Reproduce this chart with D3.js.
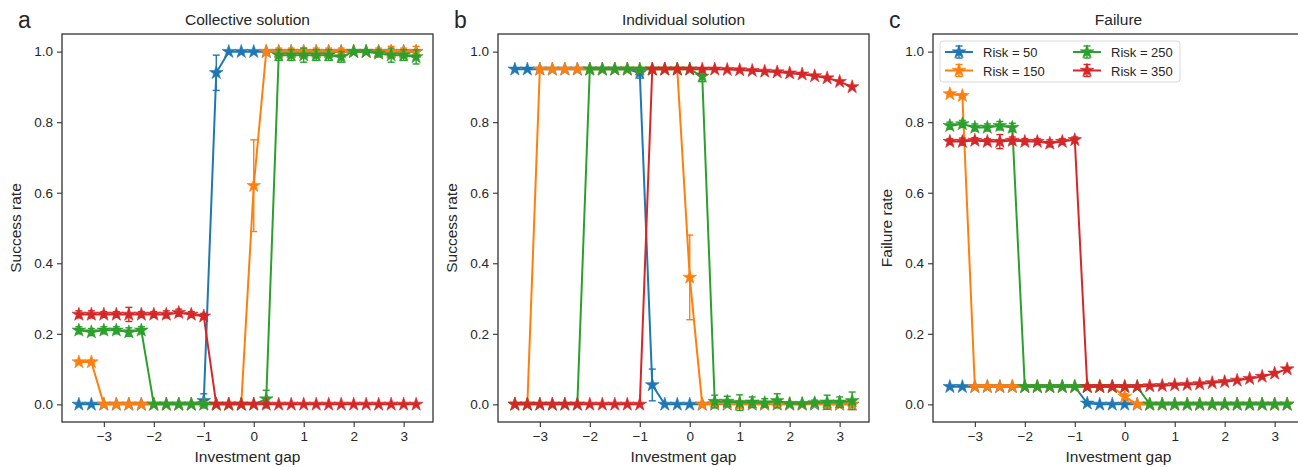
<!DOCTYPE html>
<html lang="en">
  <head>
    <meta charset="UTF-8" />
    <title>Success and failure rates</title>
    <style>
      body { margin: 0; background: #fff; }
      text { font-family: "Liberation Sans", Arial, sans-serif; fill: #262626; }
    </style>
  </head>
  <body>
    <script src="https://cdn.jsdelivr.net/npm/d3@7"></script>
    <script>
    // data
    var investmentGap = [-3.5,-3.25,-3,-2.75,-2.5,-2.25,-2,-1.75,-1.5,-1.25,-1,-0.75,-0.5,-0.25,0,0.25,0.5,0.75,1,1.25,1.5,1.75,2,2.25,2.5,2.75,3,3.25];
    var riskLabels = ["Risk = 50", "Risk = 150", "Risk = 250", "Risk = 350"];
    var xTicks = [-3,-2,-1,0,1,2,3];
    var yTicks = [0,0.2,0.4,0.6,0.8,1.0];

    // a: collective solution
    var collRisk50     = [0,0,0,0,0,0,0,0,0,0,0.01,0.94,1,1,1,1,1,1,1,1,1,1,1,1,1,1,1,1];
    var collRisk50Err  = [0,0,0,0,0,0,0,0,0,0,0.02,0.05,0,0,0,0,0,0,0,0,0,0,0,0,0,0,0,0];
    var collRisk150    = [0.12,0.12,0,0,0,0,0,0,0,0,0,0,0,0,0.62,1,1,1,1,1,1,1,1,1,1,1,1,1];
    var collRisk150Err = [0.005,0.005,0,0,0,0,0,0,0,0,0,0,0,0,0.13,0.005,0.01,0.01,0.01,0.01,0.01,0.01,0.005,0.005,0.01,0.015,0.01,0.015];
    var collRisk250    = [0.21,0.205,0.21,0.21,0.205,0.21,0,0,0,0,0,0,0,0,0,0.015,0.99,0.99,0.99,0.99,0.99,0.985,1.0,1.0,0.995,0.99,0.99,0.985];
    var collRisk250Err = [0.01,0.01,0.01,0.01,0.012,0.01,0,0,0,0,0,0,0,0,0,0.025,0.015,0.015,0.02,0.015,0.015,0.015,0.005,0.005,0.01,0.02,0.015,0.02];
    var collRisk350    = [0.255,0.255,0.255,0.255,0.255,0.255,0.255,0.255,0.26,0.255,0.25,0,0,0,0,0,0,0,0,0,0,0,0,0,0,0,0,0];
    var collRisk350Err = [0.01,0.01,0.008,0.008,0.02,0.008,0.008,0.01,0.01,0.008,0.008,0,0,0,0,0,0,0,0,0,0,0,0,0,0,0,0,0];

    // b: individual solution
    var indRisk50     = [0.95,0.95,0.95,0.95,0.95,0.95,0.95,0.95,0.95,0.95,0.94,0.055,0,0,0,0,0,0,0,0,0,0,0,0,0,0,0,0];
    var indRisk50Err  = [0,0,0,0,0,0,0,0,0,0,0.015,0.045,0,0,0,0,0,0,0,0,0,0,0,0,0,0,0,0];
    var indRisk150    = [0,0,0.95,0.95,0.95,0.95,0.95,0.95,0.95,0.95,0.95,0.95,0.95,0.95,0.36,0,0.002,0.002,0,0.002,0,0.002,0,0,0.002,0,0,0];
    var indRisk150Err = [0,0,0,0,0,0,0,0,0,0,0,0,0,0,0.12,0.003,0.005,0.005,0.01,0.005,0.005,0.005,0.003,0.003,0.005,0.01,0.005,0.008];
    var indRisk250    = [0,0,0,0,0,0,0.95,0.95,0.95,0.95,0.95,0.95,0.95,0.95,0.95,0.93,0.008,0.008,0.005,0.006,0.004,0.01,0.002,0.002,0.004,0.006,0.006,0.01];
    var indRisk250Err = [0,0,0,0,0,0,0,0,0,0,0,0,0,0,0.005,0.015,0.018,0.015,0.022,0.015,0.012,0.02,0.004,0.004,0.008,0.02,0.015,0.025];
    var indRisk350    = [0,0,0,0,0,0,0,0,0,0,0,0.95,0.95,0.95,0.95,0.95,0.95,0.949,0.948,0.946,0.944,0.942,0.939,0.936,0.931,0.925,0.915,0.90];
    var indRisk350Err = [0,0,0,0,0,0,0,0,0,0,0,0,0,0,0,0,0,0,0,0,0,0,0,0,0,0,0,0];

    // c: failure
    var failRisk50     = [0.05,0.05,0.05,0.05,0.05,0.05,0.05,0.05,0.05,0.05,0.05,0.003,0,0,0,0,0,0,0,0,0,0,0,0,0,0,0,0];
    var failRisk50Err  = [0,0,0,0,0,0,0,0,0,0,0,0.003,0,0,0,0,0,0,0,0,0,0,0,0,0,0,0,0];
    var failRisk150    = [0.88,0.875,0.05,0.05,0.05,0.05,0.05,0.05,0.05,0.05,0.05,0.05,0.05,0.05,0.022,0,0,0,0,0,0,0,0,0,0,0,0,0];
    var failRisk150Err = [0.005,0.005,0,0,0,0,0,0,0,0,0,0,0,0,0.008,0,0,0,0,0,0,0,0,0,0,0,0,0];
    var failRisk250    = [0.79,0.795,0.785,0.785,0.79,0.785,0.05,0.05,0.05,0.05,0.05,0.05,0.05,0.05,0.05,0.05,0,0,0,0,0,0,0,0,0,0,0,0];
    var failRisk250Err = [0.01,0.01,0.01,0.01,0.012,0.012,0,0,0,0,0,0,0,0,0,0,0,0,0,0,0,0,0,0,0,0,0,0];
    var failRisk350    = [0.745,0.745,0.748,0.745,0.745,0.748,0.745,0.745,0.74,0.745,0.75,0.05,0.05,0.05,0.05,0.05,0.052,0.053,0.055,0.056,0.058,0.061,0.064,0.068,0.073,0.079,0.088,0.10];
    var failRisk350Err = [0.008,0.01,0.008,0.008,0.02,0.01,0.008,0.008,0.01,0.008,0.008,0,0,0,0,0,0,0,0,0,0,0,0,0,0,0,0,0];

    var colors = ["#1f77b4", "#ff7f0e", "#2ca02c", "#d62728"];

    var width = 1298, height = 467;
    var plotW = 371, plotTop = 34, plotBottom = 422;

    var panels = [
      {letter: "a", title: "Collective solution", ylabel: "Success rate", left: 62,
       series: [[collRisk50, collRisk50Err], [collRisk150, collRisk150Err], [collRisk250, collRisk250Err], [collRisk350, collRisk350Err]]},
      {letter: "b", title: "Individual solution", ylabel: "Success rate", left: 498,
       series: [[indRisk50, indRisk50Err], [indRisk150, indRisk150Err], [indRisk250, indRisk250Err], [indRisk350, indRisk350Err]]},
      {letter: "c", title: "Failure", ylabel: "Failure rate", left: 933, legend: true,
       series: [[failRisk50, failRisk50Err], [failRisk150, failRisk150Err], [failRisk250, failRisk250Err], [failRisk350, failRisk350Err]]}
    ];

    var svg = d3.select("body").append("svg")
      .attr("width", width)
      .attr("height", height);

    var star = d3.symbol().type(d3.symbolStar).size(58);

    function drawErrorGlyph(g, x, y, err, color) {
      var cap = 3.5;
      g.append("line").attr("x1", x).attr("x2", x)
        .attr("y1", y - err).attr("y2", y + err)
        .attr("stroke", color).attr("stroke-width", 1.4);
      [y - err, y + err].forEach(function(yy) {
        g.append("line").attr("x1", x - cap).attr("x2", x + cap)
          .attr("y1", yy).attr("y2", yy)
          .attr("stroke", color).attr("stroke-width", 1.4);
      });
    }

    panels.forEach(function(p) {
      var xScale = d3.scaleLinear().domain([-3.8375, 3.5875]).range([p.left, p.left + plotW]);
      var yScale = d3.scaleLinear().domain([-0.05, 1.05]).range([plotBottom, plotTop]);

      var g = svg.append("g");

      // series
      p.series.forEach(function(s, si) {
        var vals = s[0], errs = s[1];
        var pts = investmentGap.map(function(x, i) { return {x: x, y: vals[i], e: errs[i]}; });
        var line = d3.line()
          .x(function(d) { return xScale(d.x); })
          .y(function(d) { return yScale(d.y); });
        var sg = g.append("g");
        sg.append("path").datum(pts)
          .attr("d", line)
          .attr("fill", "none")
          .attr("stroke", colors[si])
          .attr("stroke-width", 2);
        pts.forEach(function(d) {
          if (d.e > 0) {
            var px = xScale(d.x), py = yScale(d.y);
            var dy = yScale(d.y - d.e) - py;
            drawErrorGlyph(sg, px, py, dy, colors[si]);
          }
        });
        sg.selectAll("path.mark").data(pts).enter().append("path")
          .attr("class", "mark")
          .attr("d", star)
          .attr("transform", function(d) { return "translate(" + xScale(d.x) + "," + yScale(d.y) + ")"; })
          .attr("fill", colors[si])
          .attr("stroke", colors[si])
          .attr("stroke-width", 0.6);
      });

      // frame
      g.append("rect")
        .attr("x", p.left).attr("y", plotTop)
        .attr("width", plotW).attr("height", plotBottom - plotTop)
        .attr("fill", "none").attr("stroke", "#333").attr("stroke-width", 1.3);

      var xAxis = d3.axisBottom(xScale).tickValues(xTicks).tickSize(5).tickPadding(4)
        .tickFormat(d3.format("d"));
      var gx = g.append("g").attr("transform", "translate(0," + plotBottom + ")").call(xAxis);
      gx.select(".domain").remove();

      var yAxis = d3.axisLeft(yScale).tickValues(yTicks).tickSize(5).tickPadding(4)
        .tickFormat(d3.format(".1f"));
      var gy = g.append("g").attr("transform", "translate(" + p.left + ",0)").call(yAxis);
      gy.select(".domain").remove();

      [gx, gy].forEach(function(ax) {
        ax.selectAll(".tick line").attr("stroke", "#333").attr("stroke-width", 1.1);
        ax.selectAll(".tick text")
          .style("font-family", "'Liberation Sans', Arial, sans-serif")
          .style("font-size", "13.5px").attr("fill", "#262626");
      });

      // titles and labels
      g.append("text").attr("x", p.left + plotW / 2).attr("y", 25)
        .attr("text-anchor", "middle").style("font-size", "15.5px").text(p.title);
      g.append("text").attr("x", p.left - 44).attr("y", 28)
        .style("font-size", "23px").text(p.letter);
      g.append("text").attr("x", p.left + plotW / 2).attr("y", 462)
        .attr("text-anchor", "middle").style("font-size", "15.5px").text("Investment gap");
      g.append("text")
        .attr("transform", "translate(" + (p.left - 41) + "," + ((plotTop + plotBottom) / 2) + ") rotate(-90)")
        .attr("text-anchor", "middle").style("font-size", "15.5px").text(p.ylabel);

      if (p.legend) {
        var lg = g.append("g").attr("transform", "translate(" + (p.left + 7) + ",41)");
        lg.append("rect").attr("width", 240).attr("height", 41).attr("rx", 3)
          .attr("fill", "#fff").attr("fill-opacity", 0.8)
          .attr("stroke", "#d9d9d9").attr("stroke-width", 1);
        riskLabels.forEach(function(lab, i) {
          var col = Math.floor(i / 2), row = i % 2;
          var lx = 5 + col * 128, ly = 11 + row * 18.5;
          lg.append("line").attr("x1", lx).attr("x2", lx + 28).attr("y1", ly).attr("y2", ly)
            .attr("stroke", colors[i]).attr("stroke-width", 2);
          drawErrorGlyph(lg, lx + 14, ly, 6, colors[i]);
          lg.append("path").attr("d", star)
            .attr("transform", "translate(" + (lx + 14) + "," + ly + ")")
            .attr("fill", colors[i]).attr("stroke", colors[i]).attr("stroke-width", 0.6);
          lg.append("text").attr("x", lx + 38).attr("y", ly + 5)
            .style("font-size", "13px").text(lab);
        });
      }
    });
    </script>
  </body>
</html>
